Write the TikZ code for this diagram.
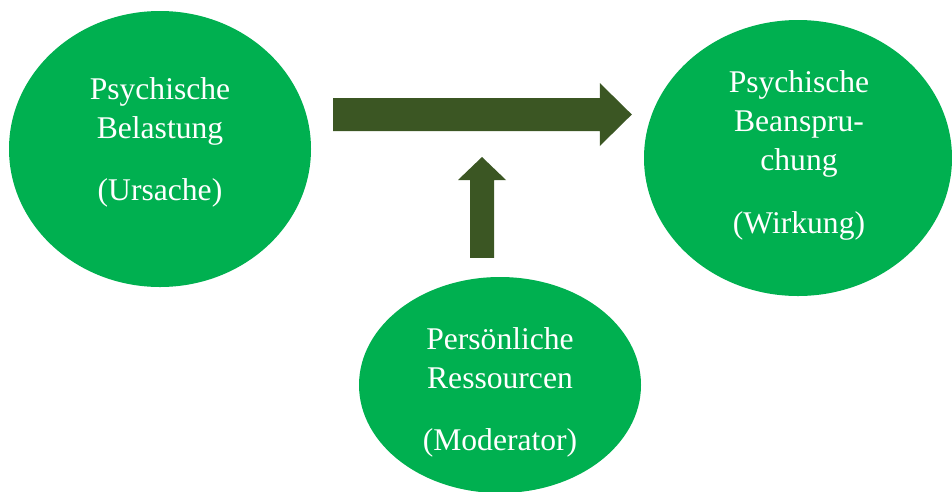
\documentclass[tikz,border=0pt]{standalone}
\usepackage{fontspec}
\setmainfont{Liberation Serif}
\usetikzlibrary{shapes.geometric,calc}
\definecolor{ellgreen}{HTML}{00B050}
\definecolor{arrowgreen}{HTML}{3B5623}
\begin{document}
\begin{tikzpicture}[x=1pt,y=-1pt,
  ell/.style={ellipse, fill=ellgreen, inner sep=0pt},
  lbl/.style={text=white, align=center, inner sep=0pt, font=\fontsize{31.6}{39}\selectfont},
  arr/.style={fill=arrowgreen}]
\useasboundingbox (0,0) rectangle (952,491);
% ellipses
\node[ell, minimum width=302pt, minimum height=276pt] (ursache) at (160,149) {};
\node[ell, minimum width=308pt, minimum height=276pt] (wirkung) at (798,158) {};
\node[ell, minimum width=282pt, minimum height=216pt] (moderator) at (500,385) {};
% texts
\node[lbl] (tursache) at (160,142) {Psychische\\Belastung\\[23pt](Ursache)};
\node[lbl] (twirkung) at (799,155) {Psychische\\Beanspru-\\chung\\[24pt](Wirkung)};
\node[lbl] (tmoderator) at (500,392) {Persönliche\\Ressourcen\\[23pt](Moderator)};
% horizontal arrow
\coordinate (hs) at ($(ursache.east)+(22,-34.5)$);
\coordinate (ht) at ($(wirkung.west)+(-12,-43.5)$);
\fill[arr] ($(hs)+(0,-16.5)$) -- ($(ht)+(-32,-16.5)$) -- ($(ht)+(-32,-31.5)$) -- (ht)
  -- ($(ht)+(-32,31.5)$) -- ($(ht)+(-32,16.5)$) -- ($(hs)+(0,16.5)$) -- cycle;
% vertical arrow
\coordinate (vs) at ($(moderator.north)+(-18,-19)$);
\coordinate (vt) at (482,157);
\fill[arr] ($(vs)+(-12,0)$) -- ($(vt)+(-12,23)$) -- ($(vt)+(-24,23)$) -- (vt)
  -- ($(vt)+(24,23)$) -- ($(vt)+(12,23)$) -- ($(vs)+(12,0)$) -- cycle;
\end{tikzpicture}
\end{document}
